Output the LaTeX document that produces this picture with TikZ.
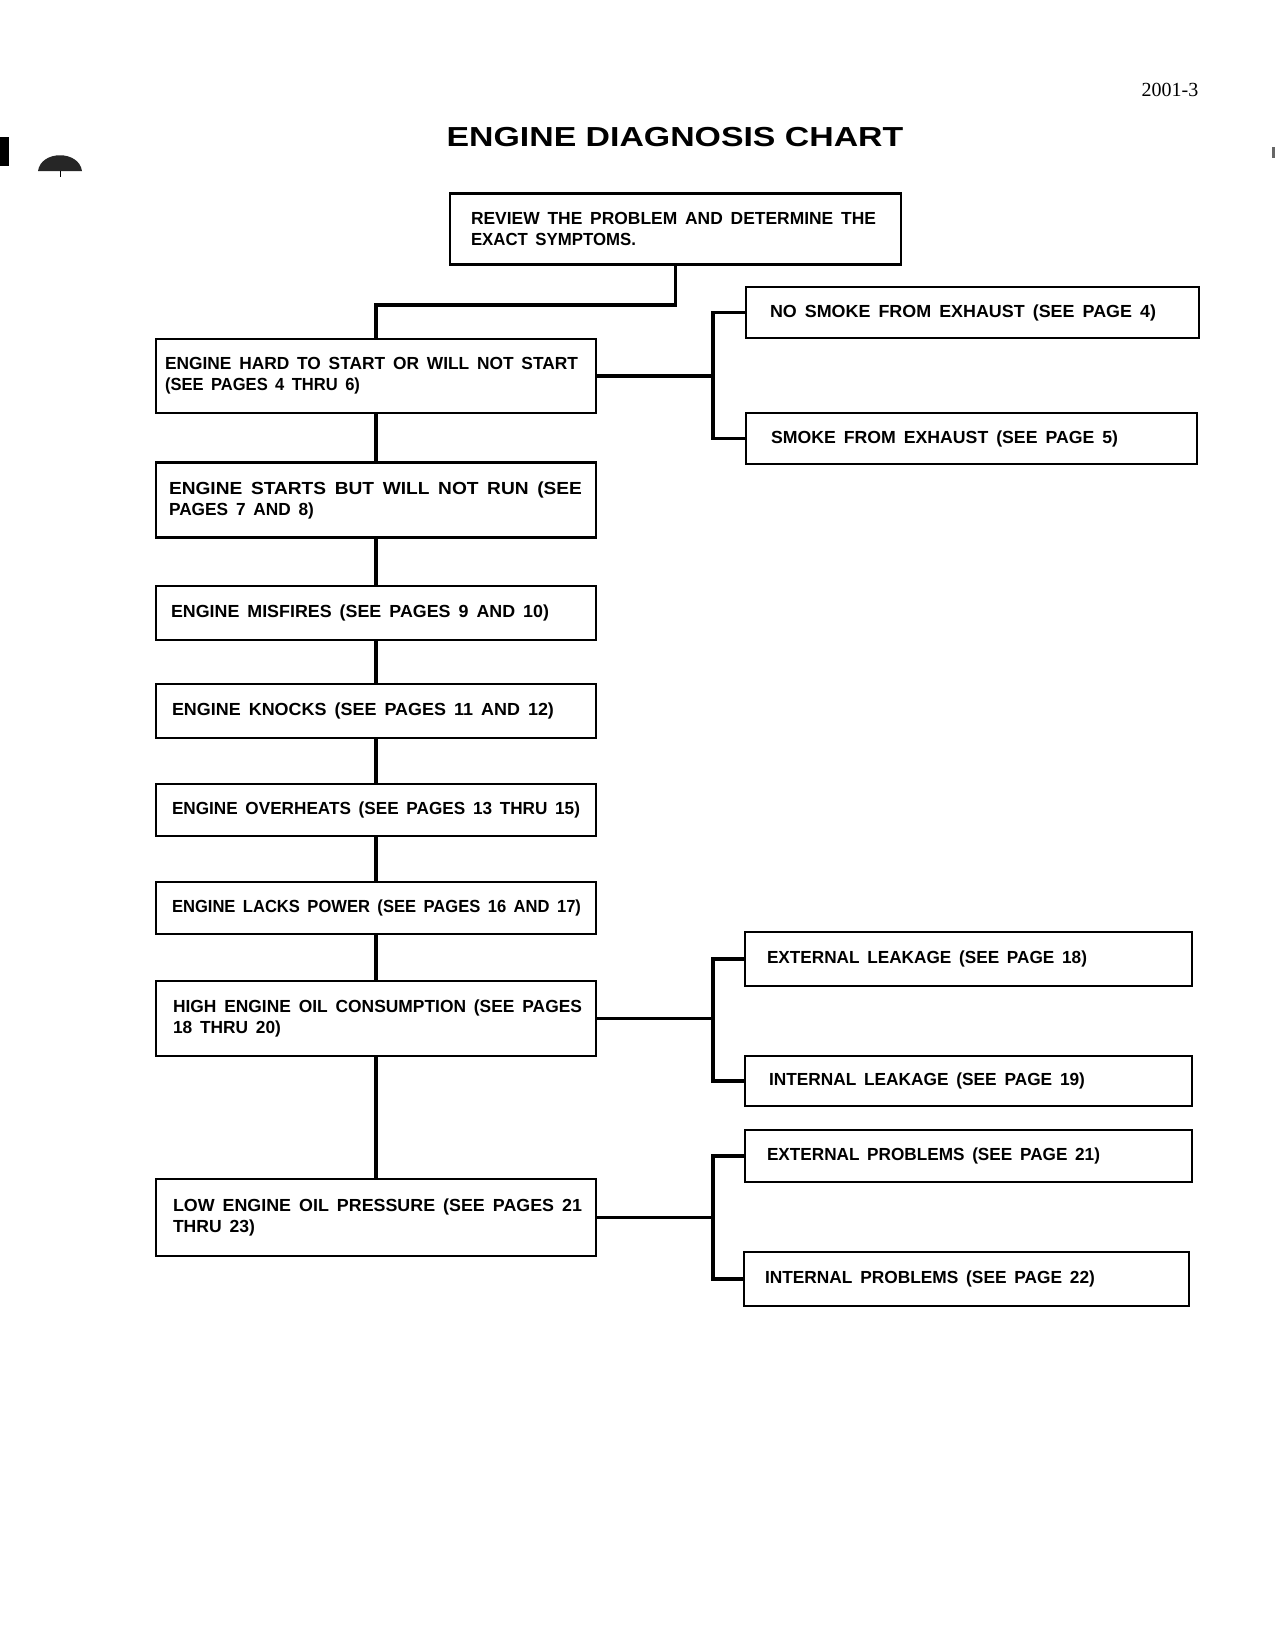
\documentclass[tikz,border=0pt]{standalone}
\usepackage{fontspec}
\usepackage{graphicx}
\setmainfont{Liberation Sans}
\newfontfamily\boxfont{Liberation Sans}
\newfontfamily\numfont{Liberation Serif}
\newcommand{\fitline}[2]{\resizebox{#1pt}{\height}{\spaceskip=0.45em\relax #2}}
\begin{document}
\begin{tikzpicture}[x=1pt,y=-1pt,
  box/.style={draw, line width=2.2pt, inner ysep=0pt, align=left,
    font=\boxfont\bfseries\fontsize{17.5}{21}\selectfont},
  conn/.style={line width=3.8pt}]
\fill[white] (0,0) rectangle (1275,1650);
\useasboundingbox (0,0) rectangle (1275,1650);
% scan marks
\fill[black] (0,137) rectangle (9,166);
\fill[black!85] (38,171) .. controls (41,150) and (79,150) .. (82,171) -- cycle;
\draw[line width=1pt] (60,171) -- (60,177);
\fill[black!60] (1272,147) rectangle (1275,158);
% header
\node[font=\numfont\fontsize{20}{24}\selectfont] (pg) at (1170,90) {2001-3};
\node (title) at (675,137) {\scalebox{1.23}[1]{\fontsize{27.5}{30}\selectfont\bfseries ENGINE DIAGNOSIS CHART}};
% main column
\node[box, inner xsep=21pt, text width=409pt, minimum height=71pt] (top) at (675.5,229)
  {\fitline{405}{REVIEW THE PROBLEM AND DETERMINE THE}\\\fitline{165}{EXACT SYMPTOMS.}};
\node[box, inner xsep=9pt, text width=422pt, minimum height=74pt] (b1) at (376,376)
  {\fitline{413}{ENGINE HARD TO START OR WILL NOT START}\\\fitline{195}{(SEE PAGES 4 THRU 6)}};
\node[box, inner xsep=13pt, text width=414pt, minimum height=75pt] (b2) at (376,500)
  {\fitline{413}{ENGINE STARTS BUT WILL NOT RUN (SEE}\\\fitline{145}{PAGES 7 AND 8)}};
\node[box, inner xsep=15pt, text width=410pt, minimum height=54pt] (b3) at (376,613)
  {\fitline{378}{ENGINE MISFIRES (SEE PAGES 9 AND 10)}};
\node[box, inner xsep=16pt, text width=408pt, minimum height=54pt] (b4) at (376,711)
  {\fitline{382}{ENGINE KNOCKS (SEE PAGES 11 AND 12)}};
\node[box, inner xsep=16pt, text width=408pt, minimum height=52pt] (b5) at (376,810)
  {\fitline{408}{ENGINE OVERHEATS (SEE PAGES 13 THRU 15)}};
\node[box, inner xsep=16pt, text width=408pt, minimum height=52pt] (b6) at (376,908)
  {\fitline{409}{ENGINE LACKS POWER (SEE PAGES 16 AND 17)}};
\node[box, inner xsep=17pt, text width=406pt, minimum height=75pt] (b7) at (376,1018.5)
  {\fitline{409}{HIGH ENGINE OIL CONSUMPTION (SEE PAGES}\\\fitline{108}{18 THRU 20)}};
\node[box, inner xsep=17pt, text width=406pt, minimum height=77pt] (b8) at (376,1217.5)
  {\fitline{409}{LOW ENGINE OIL PRESSURE (SEE PAGES 21}\\\fitline{82}{THRU 23)}};
% right column
\node[box, inner xsep=24pt, text width=405pt, minimum height=51pt] (r1) at (972.5,312.5)
  {\fitline{386}{NO SMOKE FROM EXHAUST (SEE PAGE 4)}};
\node[box, inner xsep=25pt, text width=401pt, minimum height=51pt] (r2) at (971.5,438.5)
  {\fitline{347}{SMOKE FROM EXHAUST (SEE PAGE 5)}};
\node[box, inner xsep=22pt, text width=403pt, minimum height=54pt] (r3) at (968.5,959)
  {\fitline{320}{EXTERNAL LEAKAGE (SEE PAGE 18)}};
\node[box, inner xsep=24pt, text width=399pt, minimum height=50pt] (r4) at (968.5,1081)
  {\fitline{316}{INTERNAL LEAKAGE (SEE PAGE 19)}};
\node[box, inner xsep=22pt, text width=403pt, minimum height=52pt] (r5) at (968.5,1156)
  {\fitline{333}{EXTERNAL PROBLEMS (SEE PAGE 21)}};
\node[box, inner xsep=21pt, text width=403pt, minimum height=54pt] (r6) at (966.5,1279)
  {\fitline{330}{INTERNAL PROBLEMS (SEE PAGE 22)}};
% connectors
\draw[conn] (top.south) -- ++(0,39) -| (b1.north);
\draw[conn] (b1.south) -- (b2.north);
\draw[conn] (b2.south) -- (b3.north);
\draw[conn] (b3.south) -- (b4.north);
\draw[conn] (b4.south) -- (b5.north);
\draw[conn] (b5.south) -- (b6.north);
\draw[conn] (b6.south) -- (b7.north);
\draw[conn] (b7.south) -- (b8.north);
\draw[conn] (b1.east) -- ++(116,0) coordinate (k1);
\draw[conn] (r1.west) -| (k1);
\draw[conn] (r2.west) -| (k1);
\draw[conn] (b7.east) -- ++(116,0) coordinate (k2);
\draw[conn] (r3.west) -| (k2);
\draw[conn] (r4.west) -| (k2);
\draw[conn] (b8.east) -- ++(116,0) coordinate (k3);
\draw[conn] (r5.west) -| (k3);
\draw[conn] (r6.west) -| (k3);
\end{tikzpicture}
\end{document}
